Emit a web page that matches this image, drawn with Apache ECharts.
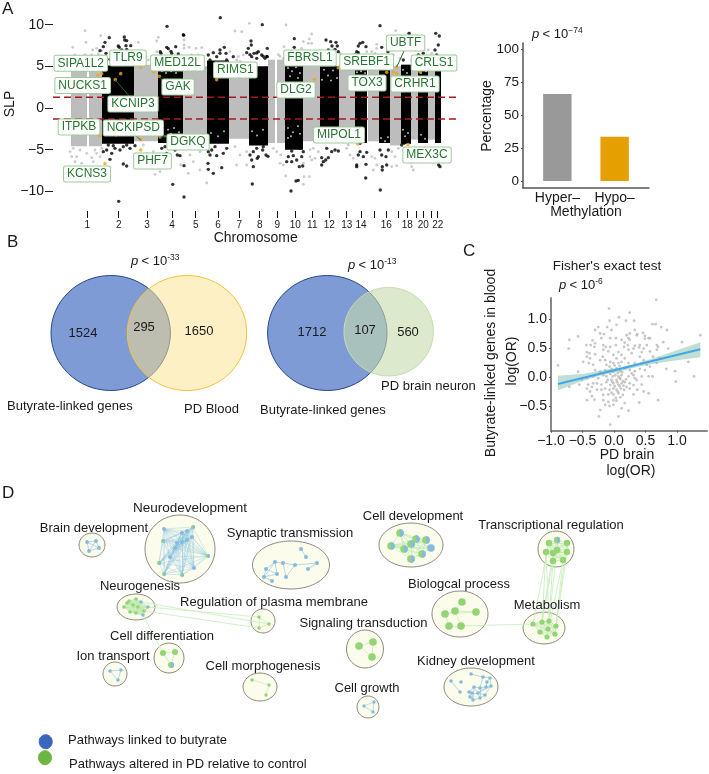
<!DOCTYPE html>
<html><head><meta charset="utf-8">
<style>html,body{margin:0;padding:0;background:#fff}#c{width:709px;height:774px}</style>
<script src="https://cdn.jsdelivr.net/npm/echarts@6/dist/echarts.min.js"></script>
</head><body><div id="c"></div>
<script>
// ---------- Panel A: genome bin vs SLP
const chrTickBins=[87.3,118.7,147,172,195.7,218,239.3,259.7,277.3,295.3,312.3,329.3,346.7,361,374.3,386.3,398.7,407.3,416.3,423.3,431,437.7];
const chrLabels=['1','2','3','4','5','6','7','8','9','10','11','12','13','14','','16','','18','','20','','22'];
const grayBlocks=[[71,87,-4.6,5],[89,102,-4.6,5],[134,158,-4,5.2],[183,207,-3.8,5],[229,249,-3.7,4.9],[268,275,-4.2,5.8],[277,285,-4.2,5.8],[303,320,-4,5.5],[339,355,-4,5.2],[368,379,-4,4.9],[390,401,-4.5,5],[411,418,-3.8,4.7],[428,435,-3.8,4.5]];
const blackBlocks=[[102,134,-4.3,5.1],[158,183,-4.2,4.7],[207,229,-4.3,5.7],[249,268,-4.5,5],[285,303,-5,5.1],[320,339,-4.2,5],[355,367,-4.2,4.7],[379,390,-4.2,4.6],[401,411,-4.3,5.2],[418,428,-4.2,4.7],[435,441,-4.2,4.6]];
const blackHits=[[220.3,10.84],[167,9.8],[183.7,8.72],[109.3,8.44],[124.3,8.52],[124.7,8.16],[126.7,8.08],[105,7.88],[118.3,7.44],[126,7.48],[130.7,7.48],[103.3,7.36],[100,6.88],[119.3,7.28],[126.7,7.04],[110,5.84],[121.7,6.96],[106,6.56],[166.7,7.28],[175.7,7.36],[168.3,7.12],[171,6.8],[160.3,6.76],[161,6.56],[171.7,6.56],[178.3,6.48],[213.3,6.64],[208.3,6.36],[220,6.96],[220,6.56],[224.3,7.28],[226,6.56],[233.3,6.16],[251,8.04],[251.3,7.56],[248.3,7.16],[246.7,6.64],[254,6.56],[251.7,6.16],[256.7,5.96],[258.3,6.76],[216.7,6.16],[210,5.76],[226.7,5.76],[166.7,6.16],[176.7,5.96],[262.3,10],[183.3,8.8],[250,6.4],[263.3,6.2],[266.7,6.2],[256.7,6.6],[294.3,8.32],[294.3,7.28],[326,8.16],[330.7,7.96],[336,7.88],[337.3,7.44],[332,7.44],[328.3,6.96],[338.3,6.76],[335,7.04],[325,6.36],[320,5.96],[267.3,7.16],[261.7,6.36],[267.3,6.16],[265,5.96],[380,9.88],[362.7,7.88],[360,7.76],[358.3,7.44],[366,7.36],[356.7,6.76],[381.7,7.28],[388.3,7.16],[409,8.96],[403.3,8.56],[435.7,8.96],[439.3,8.64],[438.3,7.56],[435,6.96],[436.7,6.36],[423.3,6.56],[418.3,6.36],[411,7.96],[408.3,7.16],[358.3,6.64],[355,6.36],[388,6.76],[385,5.96],[403.3,5.76],
[118.7,-11.2],[184,-10.68],[172.7,-9.16],[252.3,-9.12],[184,-6.92],[221.7,-7.16],[208.3,-7.36],[213.3,-7.84],[208,-6.64],[253.3,-7.04],[257.3,-6.04],[126.7,-6.96],[123.3,-6.72],[110,-6.16],[111.7,-5.44],[103.3,-5.24],[106.7,-5.04],[115,-4.84],[120,-5.04],[130,-4.84],[126.7,-4.44],[135,-4.52],[108.3,-4.44],[123.3,-4.64],[113.3,-4.52],[161.7,-4.84],[166.7,-5.44],[160,-6.04],[180,-5.72],[177.3,-5.64],[175,-5.04],[165,-4.64],[173.3,-4.44],[208.3,-5.24],[211.7,-5.04],[216.7,-5.72],[210,-5.64],[223.3,-5.44],[226.7,-4.84],[215,-4.64],[251.7,-6.24],[253.3,-5.24],[256.7,-4.84],[250,-5.64],[258.3,-5.84],[291,-9.96],[296,-8.76],[298.3,-8.68],[380.3,-9.84],[365.7,-8.4],[262.7,-5.04],[266,-5.64],[268,-5.8],[293.3,-5.72],[288.3,-5.84],[286.7,-6.44],[291.7,-6.44],[299.3,-7.04],[302.7,-6.96],[296.7,-6.24],[301.7,-5.84],[291.7,-5.16],[303.3,-5.24],[328.3,-5.96],[323.3,-6.44],[325.7,-6.24],[321.7,-6.84],[321.7,-5.96],[331.7,-5.24],[338.3,-5.16],[326.7,-4.84],[356.7,-6.84],[356.7,-7.04],[366,-6.76],[360,-5.24],[363.3,-5.84],[358.3,-5.64],[366.7,-5.32],[382.3,-7.04],[382.3,-7.44],[386.7,-6.84],[381.7,-5.64],[386,-5.84],[388.3,-5.04],[380,-5.04],[440,-7.04],[438.7,-6.84],[411,-6.44],[401.7,-4.44],[404,-4.24],[360,-4.24],[263.3,-4.64],[290,-4.64],[300,-4.84],[335,-5.04]];
const grayHits=[[85,9.28],[100.7,8.68],[86,7.88],[72.7,7.28],[92.7,6.96],[96.7,7.16],[101.7,6.88],[75,6.36],[91.7,6.36],[98.3,6.48],[85,6.36],[138.3,7.88],[158.3,8.48],[156.7,8.04],[184,8.16],[184,7.56],[184,7.16],[189,7.28],[196,7.16],[201.7,7.24],[235,9.24],[241.7,9.16],[249.3,10.16],[230,6.76],[238.3,6.16],[243.3,6.36],[156.7,6.76],[141.7,6.76],[146,6.16],[191.7,6.36],[198.3,6.36],[203.3,5.96],[236.7,5.76],[240,5.56],[190,5.76],[196.7,5.76],[76.7,5.76],[93.3,5.96],[148.3,5.76],[155,5.96],[286,9.96],[311.7,8.88],[303.3,7.96],[309.3,8.28],[311.7,7.76],[308.3,7.76],[284,7.36],[376.7,7.64],[376.7,7.16],[395.7,9.28],[410,9],[371.7,6.76],[375,6.56],[366.7,6.76],[393.3,6.36],[428.3,6.96],[431.7,6.56],[280,6.2],[278.3,6.4],[283.3,5.96],[310,6.56],[313.3,6.76],[301.7,7.16],[310,6.16],[316.7,6.56],[340,6.56],[348.3,5.96],[400,5.96],[411.7,5.76],[428.3,5.76],
[81.7,-6.64],[91.7,-5.96],[93.3,-6.44],[75,-6.44],[70,-5.24],[71.7,-5.84],[76.7,-5.84],[86.7,-5.44],[95,-5.04],[73.3,-4.84],[80,-5.04],[96.7,-5.44],[100,-5.84],[101.7,-4.84],[160,-7.64],[155,-7.96],[143.3,-4.44],[146.7,-5.44],[150,-5.64],[153.3,-5.24],[141.7,-6.24],[206.7,-9],[180.7,-6.84],[193.3,-6.44],[200,-7.44],[188.3,-7.84],[190,-5.64],[200,-5.24],[191.7,-4.84],[206.7,-4.84],[196.7,-4.64],[236.7,-6.84],[246.7,-6.84],[246.7,-5.24],[240,-5.64],[235,-4.64],[285.7,-8.16],[304,-8.24],[309.3,-8.24],[303.3,-9.16],[280,-6.64],[283.3,-6.84],[310,-5.84],[311.7,-6.24],[315,-6.04],[303.3,-6.64],[273.3,-4.84],[276.7,-5.24],[280.7,-5.64],[310,-5],[313.3,-4.84],[318.3,-5.24],[346.7,-4.84],[350,-5.64],[353.3,-6.04],[348.3,-4.44],[373.3,-7.44],[376.7,-6.84],[371.7,-5.84],[375,-6.04],[391.7,-7.04],[396.7,-6.92],[395,-5.84],[391.7,-5.24],[411.7,-7.04],[413.3,-7.44],[398.3,-4.84],[426.7,-4.84],[430,-5.24],[413.3,-5.24]];
const sparseSpots=[[162,4.4],[166,4.2],[171,4.4],[176,4.2],[288,4.8],[292,4.4],[296,4.9],[300,4.2],[290,3.8],[298,3.6],[324,4.6],[328,3.9],[333,4.5],[337,3.6],[322,3.4],[331,3.3],[357,4.3],[361,4.4],[365,4.2],[403,4.6],[407,4.2],[409,3.7],[421,4.2],[426,4.4],[288,-2.4],[293,-2.9],[298,-2.2],[291,-3.4],[300,-3.1],[288,-3.6],[163,-2.2],[168,-2.6],[174,-2.4],[179,-2.9],[171,-3.1],[165,-3.4],[252,-2.8],[257,-3.3],[263,-2.6],[324,-3.5],[332,-3.3],[336,-3.7],[211,-3],[218,-3.4],[224,-2.8],[108,-2.9],[116,-3.3],[124,-3],[381,-3.6],[385,-4],[388,-3.5],[403,-2.6],[405,-3.4],[408,-3],[357,-3.2],[363,-3.6],[421,-3.2],[425,-3.7]];
const thresholds=[1.3,-1.32];
const geneNames=['SIPA1L2','NUCKS1','TLR9','KCNIP3','MED12L','GAK','RIMS1','FBRSL1','DLG2','SREBF1','TOX3','UBTF','CRHR1','CRLS1','ITPKB','KCNS3','NCKIPSD','PHF7','DGKQ','MIPOL1','MEX3C'];
const genePoints=[[97.7,3.96],[101.7,4.12],[120.7,4.12],[115.3,3.4],[140.7,4.88],[153.7,4.32],[159.3,3.8],[216.7,3.4],[338.3,4.84],[314.3,3.4],[393.3,4.28],[386.7,4.28],[396.7,4.92],[396.7,4.12],[420,4.32],[100,-3.36],[105,-6.68],[140.7,-3.8],[140.7,-5.04],[160,-3.48],[357.7,-4.32],[408,-4.4]];
const geneBoxLayout={SIPA1L2:[80.8,63.3],NUCKS1:[82.7,85.5],TLR9:[128,58],KCNIP3:[133,104],MED12L:[177.5,63],GAK:[178,87],RIMS1:[235.3,70],FBRSL1:[310,58],DLG2:[296,90],SREBF1:[366.7,62],TOX3:[367,83],UBTF:[405.6,43],CRHR1:[415,84],CRLS1:[434,63],ITPKB:[79,127],KCNS3:[87,174],NCKIPSD:[133.3,128],PHF7:[152.5,161],DGKQ:[188,142],MIPOL1:[339,135],MEX3C:[427,155]};
const leaderLayout=[[115.3,80,130,97],[135,135,140.7,140],[404,51,396.7,67],[159.3,76.5,165,83],[160,137,170,136.5]];
// ---------- Bar panel
const barCategories=['Hyper–','Hypo–'];
const barValues=[66.2,33.6];
// ---------- Panel C
const orPoints=[[.67,1.33],[-.08,1.18],[.25,1.11],[.08,1.03],[-.07,.97],[.19,.97],[.32,.97],[.61,.91],[.66,.91],[.75,.86],[.84,.81],[-.25,.86],[-.3,.81],[-.11,.86],[-.04,.81],[.04,.9],[.33,.81],[.37,.74],[.46,.76],[.49,.71],[.55,.67],[.57,.67],[-.22,.75],[-.16,.74],[.25,.75],[.2,.72],[-.57,.7],[-.71,.64],[1.37,.72],[1.08,.6],[.78,.6],[.68,.55],[-.34,.63],[-.3,.58],[-.44,.55],[-.37,.55],[-.2,.67],[-.06,.67],[.03,.67],[.12,.64],[.23,.67],[.17,.59],[.25,.64],[.36,.72],[.49,.66],[.52,.55],[.41,.55],[.33,.54],[-.72,.49],[-.31,.52],[-.17,.55],[-.13,.52],[-.06,.52],[.03,.55],[.16,.52],[.22,.55],[.31,.49],[.4,.51],[.47,.49],[.7,.52],[.86,.49],[-.43,.43],[-.39,.41],[-.3,.39],[-.17,.47],[-.09,.44],[.07,.43],[.12,.38],[.23,.47],[.28,.41],[.44,.43],[.57,.44],[.68,.47],[-.43,.35],[-.38,.32],[-.49,.26],[-.89,.2],[-.18,.35],[-.14,.29],[-.22,.29],[-.01,.38],[.04,.32],[.17,.32],[.41,.35],[.47,.29],[.62,.35],[.73,.32],[1.18,.26],[-.4,.24],[-.33,.21],[-.12,.21],[-.06,.26],[-.01,.24],[.07,.24],[.12,.26],[.23,.24],[.33,.24],[.44,.24],[.52,.21],[.68,.24],[.83,.14],[.97,.1],[-.57,.09],[-.3,.12],[-.22,.09],[-.14,.12],[-.07,.18],[-.04,.14],[-.01,.09],[.04,.15],[.1,.1],[.17,.15],[.25,.12],[.33,.1],[.41,.14],[.49,.12],[.57,.18],[-.43,-.02],[-.51,-.05],[-.33,.01],[-.25,-.02],[-.17,.03],[-.12,.01],[-.06,.05],[-.02,.01],[.02,.03],[.07,.01],[.12,.03],[-.04,-.05],[.04,-.05],[.1,-.03],[.14,-.07],[.23,.01],[.31,.03],[.33,-.02],[.44,.01],[.55,.01],[.61,.01],[1.27,.01],[.98,-.08],[-.55,-.13],[-.71,-.17],[-.41,-.13],[-.33,-.11],[-.27,-.11],[-.35,-.17],[-.43,-.2],[-.2,-.13],[-.12,-.09],[-.06,-.14],[-.01,-.11],[.07,-.13],[.12,-.11],[.17,-.09],[.25,-.11],[.31,-.14],[.36,-.05],[.44,-.13],[-.38,-.25],[-.27,-.22],[-.2,-.22],[-.14,-.2],[-.07,-.22],[-.01,-.2],[.04,-.22],[.11,-.2],[.16,-.22],[.25,-.2],[.37,-.22],[.47,-.25],[.55,-.28],[-.35,-.33],[-.17,-.31],[-.09,-.3],[-.01,-.3],[.07,-.28],[.14,-.31],[.31,-.3],[-.43,-.4],[-.31,-.39],[-.17,-.4],[-.09,-.43],[-.01,-.4],[.04,-.41],[.17,-.45],[.4,-.44],[.7,-.4],[-.14,-.48],[-.07,-.5],[-.01,-.48],[.12,-.54],[-.22,-.57],[.23,-.58],[-.24,-.68],[.07,-.68],[-.06,-.82],[.02,.12],[.06,.07],[.09,-.02],[.13,.08],[.05,-.09],[-.03,-.08],[.09,-.16],[.15,-.15],[-.1,-.05],[.01,-.16],[.06,-.25],[-.04,-.27],[.19,-.04],[.09,.19],[.01,.2],[-.09,.1],[.28,.06],[.2,-.17],[.1,-.35],[.03,-.36]];
const fitX=[-.89,1.37];
const fitY=[-.12,.477];
const bandX=[-.89,-.5,-.2,.1,.4,.7,1,1.37];
const bandUpper=[.02,.05,.11,.17,.25,.35,.46,.6];
const bandLower=[-.23,-.07,.03,.1,.18,.24,.29,.34];
// ---------- Panel D network layout (page units)
const clusterEllipses=[[92,545,13,12],[180,549,35,34],[291,565,38.5,24],[136,607,19,13],[263,621,12,12],[169,658,15,15],[115,674,12,12],[260,687,17,14],[411,545,32,22],[556,549,18,18],[460,614,28,23],[544,628,21,16],[365,649,18.5,19],[471,687,27,19],[368,707,11,11]];
const netClusters=[
 {c:'b',r:1.9,mesh:1,n:[[87,542],[96,541],[99,548],[89,551]]},
 {c:'b',r:2,mesh:1,w:.45,n:[[164,529],[193,527,'m'],[182,533],[187,531],[192,537],[187,540],[163,541,'m'],[175,548],[170,557],[159,563,'m'],[208,556,'m'],[194,568],[164,574,'m'],[182,575,'m'],[182,542],[177,543]]},
 {c:'b',r:2,e:[[0,1],[2,11],[2,3],[3,4],[4,5],[3,10],[5,6],[5,7],[6,7],[8,7],[6,8],[9,8],[5,8],[4,10]],n:[[301,549],[306,557],[317,563],[295,565],[283,563],[275,562],[266,569],[277,574],[264,577],[272,581],[286,577],[308,569]]},
 {c:'g',r:1.8,mesh:1,n:[[124,607],[129,601],[136,599],[141,602,'b'],[148,607,'b'],[138,607],[130,612],[136,613],[143,615,'b'],[127,603],[144,611],[133,605]]},
 {c:'g',r:1.7,mesh:1,n:[[259,617],[269,624],[259,628]]},
 {c:'g',r:3,mesh:1,n:[[163,653],[175,652],[171,665,'m']]},
 {c:'b',r:1.8,mesh:1,n:[[110,671],[121,670],[118,680]]},
 {c:'g',r:1.7,e:[[0,1],[1,2]],n:[[252,680],[269,685],[266,695]]},
 {c:'g',r:3.8,mesh:1,n:[[400,533,'m'],[391,546,'m'],[416,539,'m'],[426,540,'m'],[411,544,'m'],[404,549,'m'],[431,548,'b'],[422,554,'m'],[411,559,'m']]},
 {c:'g',r:3.2,mesh:1,n:[[549,543],[557,540,'m'],[567,543],[546,552],[557,550],[567,552],[553,561],[563,560],[553,553]]},
 {c:'g',r:3.8,e:[[0,2],[1,2],[1,3],[2,3],[3,4],[4,5],[2,5]],n:[[462,602],[476,612],[455,611],[445,614],[449,626],[461,626]]},
 {c:'g',r:2.6,mesh:1,n:[[533,624],[542,622],[549,621],[556,626],[548,629],[540,632],[555,634],[547,637]]},
 {c:'g',r:3.8,mesh:1,n:[[359,646],[373,642],[372,657]]},
 {c:'b',r:1.8,e:[[0,2],[3,4],[4,5],[5,6],[6,7],[7,8],[8,9],[9,10],[10,11],[11,12],[12,13],[13,14],[14,15],[15,16],[16,6],[17,5],[8,15],[9,14],[7,10],[4,8],[10,16],[11,14],[12,9],[6,10],[13,11],[17,7],[10,15]],n:[[451,681],[461,682],[460,692],[471,674],[483,677],[490,678],[491,686],[486,687],[480,688],[474,687],[478,693],[472,693],[469,692],[470,697],[473,700],[480,698],[485,695],[487,682]]},
 {c:'b',r:1.7,mesh:1,n:[[364,706],[374,702],[373,712]]}
];
const crossLinks=[[148,607,259,617],[144,611,259,628],[141,602,269,624],[143,615,163,653],[461,626,533,624],[549,543,533,624],[546,552,542,622],[553,561,540,632],[553,561,549,621],[563,560,556,626],[567,552,555,634],[563,560,547,637],[546,552,549,621],[567,543,556,626],[557,550,548,629],[553,553,542,622]];
// ---------- Venn
const vennCounts=[['1524',83,333],['295',144,327],['1650',199,331],['1712',312,332],['107',365,330],['560',408,332]];
const vennShapes=[[110.7,333,59.7,57.5,'#7F9BD6','#27468F'],[187,333,59.7,57.5,'rgba(251,225,137,.5)','#F5C33B'],[327.3,333,59.7,57.5,'#7F9BD6','#27468F'],[388.7,331.7,44.7,44.3,'rgba(197,218,170,.6)','#C6DDB0']];

const FF='"Liberation Sans",Arial,sans-serif';
const TC='#1a1a1a';
function txt(x,y,text,o){o=o||{};return {type:'text',x:x,y:y,rotation:o.rot||0,z:50,silent:true,style:{text:text,fontFamily:FF,fontSize:o.fs||13,fill:o.c||TC,align:o.a||'center',verticalAlign:'middle'}};}
function pval(x,y,exp){return {type:'text',x:x,y:y,z:50,silent:true,style:{text:'{i|p} {n|< 10}{s|'+exp+'}',fill:TC,align:'left',verticalAlign:'middle',rich:{i:{fontStyle:'italic',fontSize:13,fontFamily:FF,fill:TC,lineHeight:16},n:{fontSize:13,fontFamily:FF,fill:TC,lineHeight:16},s:{fontSize:8.5,fontFamily:FF,fill:TC,verticalAlign:'top',lineHeight:12}}}};}
const graphics=[
 txt(2,9,'A',{a:'left',fs:17}),txt(7,242,'B',{a:'left',fs:17}),txt(463,251,'C',{a:'left',fs:17}),txt(2,493,'D',{a:'left',fs:17}),
 txt(255.7,238,'Chromosome',{fs:14}),txt(10,104,'SLP',{fs:14,rot:Math.PI/2}),
 txt(487,116,'Percentage',{fs:14,rot:Math.PI/2}),txt(586,212,'Methylation',{fs:14}),pval(532,34,'−74'),
 pval(131,261,'-33'),pval(348,265,'-13'),pval(559,285,'-6'),
 txt(7,406,'Butyrate-linked genes',{a:'left'}),txt(184,409,'PD Blood',{a:'left'}),txt(260,410,'Butyrate-linked genes',{a:'left'}),txt(381,386,'PD brain neuron',{a:'left'}),
 txt(607,266,"Fisher's exact test",{fs:13.5}),txt(491,363,'Butyrate-linked genes in blood',{fs:14,rot:Math.PI/2}),txt(512,361,'log(OR)',{fs:14,rot:Math.PI/2}),txt(627,455,'PD brain',{fs:14}),txt(631,471,'log(OR)',{fs:14}),
 txt(190,508,'Neurodevelopment',{fs:13.5}),txt(94,528,'Brain development',{fs:13}),txt(290,533,'Synaptic transmission',{fs:13}),txt(140,586,'Neurogenesis',{fs:13}),txt(274,602,'Regulation of plasma membrane',{fs:13}),txt(162,636,'Cell differentiation',{fs:13}),txt(113,656,'Ion transport',{fs:13}),txt(263,666,'Cell morphogenesis',{fs:13}),txt(413,516,'Cell development',{fs:13}),txt(551,525,'Transcriptional regulation',{fs:13}),txt(459,584,'Biologcal process',{fs:13}),txt(547,605,'Metabolism',{fs:13}),txt(363.5,623,'Signaling transduction',{fs:13}),txt(476,661,'Kidney development',{fs:13}),txt(367,688,'Cell growth',{fs:13}),
 txt(68,740,'Pathways linked to butyrate',{a:'left',fs:13}),txt(69,764,'Pathways altered in PD relative to control',{a:'left',fs:13})
];
vennCounts.forEach(v=>graphics.push(txt(v[1],v[2],v[0],{fs:13})));
geneNames.forEach(g=>{const p=geneBoxLayout[g];graphics.push({type:'text',x:p[0],y:p[1],z:40,silent:true,style:{text:g,fontFamily:FF,fontSize:12,fill:'#24752E',align:'center',verticalAlign:'middle',backgroundColor:'#fff',borderColor:'#9CCB98',borderWidth:1,borderRadius:1.5,padding:[2,3,1,3]}});});

// network graph data
const BLUE='#86BBDD',GREEN='#93D574';
const gNodes=[],gLinks=[],halves=[];
netClusters.forEach(cl=>{
 const base=gNodes.length;
 cl.n.forEach(p=>{
  const kind=p[2]||cl.c;
  gNodes.push({value:[p[0],p[1]],symbolSize:cl.r*2,itemStyle:{color:kind==='b'?BLUE:GREEN}});
  if(kind==='m')halves.push([p[0],p[1],cl.r]);
 });
 const col=cl.c==='b'?'#8CC4E2':'#BFE8AE';
 const pairs=[];
 if(cl.mesh){for(let i=0;i<cl.n.length;i++)for(let j=i+1;j<cl.n.length;j++)pairs.push([i,j]);}
 else pairs.push(...cl.e);
 pairs.forEach(e=>gLinks.push({source:base+e[0],target:base+e[1],lineStyle:{color:col,width:.8,opacity:cl.w||.8}}));
});
crossLinks.forEach(l=>{
 const b=gNodes.length;
 gNodes.push({value:[l[0],l[1]],symbolSize:0},{value:[l[2],l[3]],symbolSize:0});
 gLinks.push({source:b,target:b+1,lineStyle:{color:'#CBEFC0',width:1,opacity:.9}});
});

function ellipseSeries(data,z){return {type:'custom',xAxisIndex:0,yAxisIndex:0,z:z,silent:true,clip:false,
 renderItem:function(p,api){const d=data[p.dataIndex];const c=api.coord([d[0],d[1]]);
  return {type:'ellipse',shape:{cx:c[0],cy:c[1],rx:d[2],ry:d[3]},style:{fill:d[4]||'#FBFCEB',stroke:d[5]||'#8B8B80',lineWidth:1}};},
 encode:{x:0,y:1},data:data.map(d=>[d[0],d[1]])};}

function blockSeries(blocks,color,z){return {type:'custom',xAxisIndex:1,yAxisIndex:1,z:z,silent:true,clip:false,
 renderItem:function(p,api){const d=blocks[p.dataIndex];const a=api.coord([d[0],d[3]]),b=api.coord([d[1],d[2]]);
  return {type:'rect',shape:{x:a[0],y:a[1],width:b[0]-a[0],height:b[1]-a[1]},style:{fill:color}};},
 encode:{x:0,y:2},data:blocks};}

const opt={animation:false,backgroundColor:'#fff',textStyle:{fontFamily:FF},
 grid:[
  {left:0,top:0,width:709,height:774},
  {left:53,top:8,width:406,height:200},
  {left:523,top:43,width:126,height:145},
  {left:551,top:298,width:156,height:132.7}
 ],
 xAxis:[
  {gridIndex:0,type:'value',min:0,max:709,show:false},
  {gridIndex:1,type:'value',min:53,max:459,offset:3,splitLine:{show:false},axisLine:{show:false,onZero:false},
   axisTick:{show:true,length:7,lineStyle:{color:'#111',width:1},customValues:chrTickBins},
   axisLabel:{customValues:chrTickBins.filter((b,i)=>chrLabels[i]!==''),fontSize:10,color:TC,margin:9,fontFamily:FF,formatter:v=>chrLabels[chrTickBins.indexOf(v)]}},
  {gridIndex:2,type:'value',min:.4,max:2.6,splitLine:{show:false},axisLine:{onZero:false,lineStyle:{color:'#555',width:1.5}},
   axisTick:{show:false,customValues:[1,2]},
   axisLabel:{customValues:[1,2],fontSize:14,color:TC,margin:3,fontFamily:FF,formatter:v=>barCategories[v-1]}},
  {gridIndex:3,type:'value',min:-1,max:1.476,splitLine:{show:false},axisLine:{onZero:false,lineStyle:{color:'#888',width:2}},
   axisTick:{show:true,length:2,lineStyle:{color:'#555'},customValues:[-1,-.5,0,.5,1]},
   axisLabel:{customValues:[-1,-.5,0,.5,1],fontSize:14,color:TC,margin:3,fontFamily:FF,formatter:v=>v.toFixed(1).replace('-','−')}}
 ],
 yAxis:[
  {gridIndex:0,type:'value',min:0,max:774,inverse:true,show:false},
  {gridIndex:1,type:'value',min:-12,max:12,splitLine:{show:false},axisLine:{show:false,onZero:false},
   axisTick:{show:true,length:8,lineStyle:{color:'#222',width:1},customValues:[-10,-5,0,5,10]},
   axisLabel:{customValues:[-10,-5,0,5,10],fontSize:14,color:TC,margin:9,fontFamily:FF,formatter:v=>String(v).replace('-','−')}},
  {gridIndex:2,type:'value',min:-5.3,max:105,splitLine:{show:false},axisLine:{show:true,onZero:false,lineStyle:{color:'#555',width:1.5}},
   axisTick:{show:true,length:2,lineStyle:{color:'#555'},customValues:[0,25,50,75,100]},
   axisLabel:{customValues:[0,25,50,75,100],fontSize:13.5,color:TC,margin:4,fontFamily:FF}},
  {gridIndex:3,type:'value',min:-.926,max:1.362,splitLine:{show:false},axisLine:{show:true,onZero:false,lineStyle:{color:'#888',width:2}},
   axisTick:{show:true,length:2,lineStyle:{color:'#555'},customValues:[-.5,0,.5,1]},
   axisLabel:{customValues:[-.5,0,.5,1],fontSize:14,color:TC,margin:4,fontFamily:FF,formatter:v=>v.toFixed(1).replace('-','−')}}
 ],
 series:[
  blockSeries(grayBlocks,'#BDBDBD',1),
  blockSeries(blackBlocks,'#000',2),
  {type:'scatter',xAxisIndex:1,yAxisIndex:1,z:3,silent:true,symbolSize:2,itemStyle:{color:'#e4e4e4'},data:sparseSpots},
  {type:'scatter',xAxisIndex:1,yAxisIndex:1,z:3,silent:true,symbolSize:2.8,itemStyle:{color:'#BDBDBD'},data:grayHits},
  {type:'scatter',xAxisIndex:1,yAxisIndex:1,z:4,silent:true,symbolSize:3.4,itemStyle:{color:'#000'},data:blackHits},
  {type:'line',xAxisIndex:1,yAxisIndex:1,z:5,silent:true,symbol:'none',lineStyle:{color:'#A8191C',width:1.5,type:[7,4]},data:[[53,thresholds[0]],[459,thresholds[0]]]},
  {type:'line',xAxisIndex:1,yAxisIndex:1,z:5,silent:true,symbol:'none',lineStyle:{color:'#A8191C',width:1.5,type:[7,4]},data:[[53,thresholds[1]],[459,thresholds[1]]]},
  {type:'scatter',xAxisIndex:1,yAxisIndex:1,z:6,silent:true,symbolSize:3.6,itemStyle:{color:'#F2A21E'},data:genePoints},
  {type:'custom',xAxisIndex:0,yAxisIndex:0,z:7,silent:true,clip:false,renderItem:function(p,api){const d=leaderLayout[p.dataIndex];const a=api.coord([d[0],d[1]]),b=api.coord([d[2],d[3]]);return {type:'line',shape:{x1:a[0],y1:a[1],x2:b[0],y2:b[1]},style:{stroke:'#1F6B2A',lineWidth:1}};},encode:{x:0,y:1},data:leaderLayout},
  {type:'bar',xAxisIndex:2,yAxisIndex:2,z:2,silent:true,barWidth:28.4,data:[{value:[1,barValues[0]],itemStyle:{color:'#999999'}},{value:[2,barValues[1]],itemStyle:{color:'#E69F00'}}]},
  {type:'scatter',xAxisIndex:3,yAxisIndex:3,z:2,silent:true,symbolSize:2.8,itemStyle:{color:'#B9B9B9'},data:orPoints},
  {type:'custom',xAxisIndex:3,yAxisIndex:3,z:3,silent:true,clip:false,data:[[bandX[0],bandLower[0]]],encode:{x:0,y:1},
   renderItem:function(p,api){const pts=[];bandX.forEach((x,i)=>pts.push(api.coord([x,bandUpper[i]])));for(let i=bandX.length-1;i>=0;i--)pts.push(api.coord([bandX[i],bandLower[i]]));return {type:'polygon',shape:{points:pts},style:{fill:'rgba(130,190,165,.5)'}};}},
  {type:'line',xAxisIndex:3,yAxisIndex:3,z:4,silent:true,symbol:'none',lineStyle:{color:'#3FA7EE',width:2},data:[[fitX[0],fitY[0]],[fitX[1],fitY[1]]]},
  ellipseSeries(vennShapes.slice(0,1),1),ellipseSeries(vennShapes.slice(1,2),2),ellipseSeries(vennShapes.slice(2,3),1),ellipseSeries(vennShapes.slice(3,4),2),
  ellipseSeries(clusterEllipses,1),
  {type:'graph',coordinateSystem:'cartesian2d',xAxisIndex:0,yAxisIndex:0,layout:'none',z:3,silent:true,roam:false,symbol:'circle',data:gNodes,links:gLinks},
  {type:'custom',xAxisIndex:0,yAxisIndex:0,z:4,silent:true,clip:false,encode:{x:0,y:1},data:halves,
   renderItem:function(p,api){const c=api.coord([api.value(0),api.value(1)]);return {type:'sector',shape:{cx:c[0],cy:c[1],r:api.value(2),r0:0,startAngle:-Math.PI/2,endAngle:Math.PI/2},style:{fill:BLUE}};}},
  ellipseSeries([[45.7,741.7,6.5,7,'#3A66BE','#3A66BE'],[45,757.7,6.5,7,'#6EB644','#6EB644']],2)
 ],
 graphic:{elements:graphics}
};
const chart=echarts.init(document.getElementById('c'),null,{renderer:'canvas'});
chart.setOption(opt);
</script></body></html>
